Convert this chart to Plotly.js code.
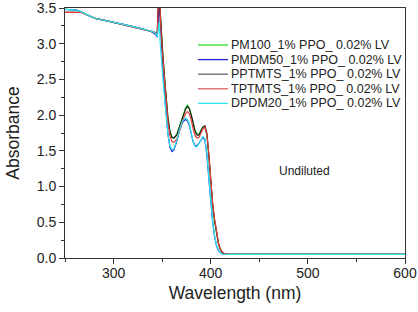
<!DOCTYPE html>
<html>
<head>
<meta charset="utf-8">
<script src="https://cdn.plot.ly/plotly-3.0.1.min.js"></script>
<style>html,body{margin:0;padding:0;background:#fff;}#chart{width:418px;height:312px;}</style>
</head>
<body>
<div id="chart"></div>
<script>
// Wavelength grid (nm)
const wavelength = [250,255,262,266,270,275,282,290,300,310,320,330,340,344,345,346,347,348,349,351,353,356,358,360,362,365,368,371,374,376,378,380,382,384,386,388,390,392,394,396,398,400,402,404,406,408,410,412,414,416,420,430,450,500,550,600];

const seriesNames = ["PM100_1% PPO_ 0.02% LV","PMDM50_1% PPO_ 0.02% LV","PPTMTS_1% PPO_ 0.02% LV","TPTMTS_1% PPO_ 0.02% LV","DPDM20_1% PPO_ 0.02% LV"];
const seriesColors = ["#2fdc2f","#2424d8","#1a1a1a","#e03a3a","#30e4ee"];
const legendLineColors = ["#2fdc2f","#2424d8","#666666","#e06060","#30e4ee"];

const pm100 =  [3.48,3.48,3.47,3.45,3.42,3.39,3.35,3.33,3.30,3.27,3.24,3.21,3.17,3.15,3.15,3.55,3.75,3.45,3.18,2.80,2.45,1.97,1.78,1.69,1.68,1.73,1.85,1.98,2.10,2.14,2.10,2.00,1.87,1.78,1.74,1.73,1.79,1.84,1.84,1.72,1.42,1.02,0.72,0.50,0.31,0.19,0.11,0.075,0.06,0.055,0.05,0.05,0.05,0.05,0.05,0.05];
const pmdm50 = [3.48,3.48,3.47,3.45,3.42,3.39,3.35,3.33,3.30,3.27,3.24,3.21,3.16,3.12,3.09,3.40,3.60,3.30,3.00,2.60,2.20,1.73,1.55,1.49,1.51,1.63,1.79,1.90,1.94,1.92,1.86,1.74,1.62,1.57,1.57,1.61,1.66,1.69,1.65,1.45,1.12,0.78,0.50,0.30,0.17,0.10,0.07,0.055,0.05,0.05,0.05,0.05,0.05,0.05,0.05,0.05];
const pptmts = [3.44,3.44,3.44,3.44,3.42,3.39,3.35,3.33,3.30,3.27,3.24,3.21,3.17,3.15,3.15,3.55,3.75,3.45,3.15,2.78,2.43,1.95,1.77,1.69,1.68,1.72,1.84,1.97,2.08,2.12,2.09,2.00,1.86,1.77,1.72,1.72,1.78,1.83,1.85,1.75,1.46,1.05,0.75,0.53,0.33,0.20,0.12,0.08,0.06,0.055,0.05,0.05,0.05,0.05,0.05,0.05];
const tptmts = [3.44,3.44,3.44,3.44,3.42,3.39,3.35,3.33,3.30,3.27,3.24,3.21,3.17,3.15,3.15,3.55,3.75,3.45,3.12,2.74,2.38,1.90,1.71,1.63,1.62,1.66,1.78,1.92,2.02,2.05,2.02,1.93,1.80,1.71,1.68,1.69,1.75,1.81,1.83,1.74,1.46,1.06,0.76,0.54,0.34,0.21,0.12,0.08,0.06,0.055,0.05,0.05,0.05,0.05,0.05,0.05];
const dpdm20 = [3.48,3.48,3.47,3.45,3.42,3.39,3.35,3.33,3.30,3.27,3.24,3.21,3.17,3.14,3.10,3.20,3.30,3.00,2.78,2.48,2.16,1.73,1.57,1.52,1.53,1.64,1.80,1.92,1.96,1.94,1.88,1.75,1.62,1.56,1.56,1.60,1.66,1.70,1.67,1.48,1.14,0.80,0.52,0.31,0.18,0.11,0.07,0.055,0.05,0.05,0.05,0.05,0.05,0.05,0.05,0.05];

const seriesValues = [pm100, pmdm50, pptmts, tptmts, dpdm20];

const xTickVals = [300,400,500,600];
const annotationText = "Undiluted";

const FONT = "Liberation Sans, Arial, sans-serif";

const traces = seriesValues.map((vals, i) => ({
  type: "scatter",
  mode: "lines",
  x: wavelength,
  y: vals,
  name: seriesNames[i],
  showlegend: false,
  line: {color: seriesColors[i], width: 1.2}
}));

// Manual legend (paper coordinates)
const plotL = 65, plotW = 340, plotB = 258, plotH = 250;
const px2x = p => (p - plotL) / plotW;
const px2y = p => (plotB - p) / plotH;
const legendRowY = [45, 59.6, 74.2, 88.8, 103.4];
const shapes = [];
const annotations = [];
seriesNames.forEach((name, i) => {
  shapes.push({type: "line", xref: "paper", yref: "paper",
    x0: px2x(198), x1: px2x(228), y0: px2y(legendRowY[i]), y1: px2y(legendRowY[i]),
    line: {color: legendLineColors[i], width: 1.3}});
  annotations.push({xref: "paper", yref: "paper", x: px2x(229), y: px2y(legendRowY[i]),
    xanchor: "left", yanchor: "middle", showarrow: false, text: name,
    font: {family: FONT, size: 12.5, color: "#222"}});
});
annotations.push({
  x: 497, y: 1.22, xref: "x", yref: "y", text: annotationText, showarrow: false,
  font: {family: FONT, size: 12, color: "#222"}
});

const axisFont = {family: FONT, size: 14, color: "#222"};

const layout = {
  width: 418, height: 312,
  margin: {l: 65, r: 13, t: 8, b: 54},
  paper_bgcolor: "#fff", plot_bgcolor: "#fff",
  showlegend: false,
  xaxis: {
    range: [250, 600], tickvals: xTickVals, ticktext: xTickVals.map(String),
    ticks: "outside", ticklen: 5, tickcolor: "#333", ticklabelstandoff: -3,
    showline: true, linecolor: "#333", linewidth: 1, mirror: true,
    showgrid: false, zeroline: false, ticklabeloverflow: "allow",
    tickfont: axisFont,
    minor: {dtick: 50, tick0: 250, ticks: "outside", ticklen: 3, tickcolor: "#333", showgrid: false},
    title: {text: "Wavelength (nm)", font: {family: FONT, size: 17.5, color: "#222"}, standoff: 6}
  },
  yaxis: {
    range: [0, 3.5], dtick: 0.5, tick0: 0, tickformat: ".1f",
    ticks: "outside", ticklen: 5, tickcolor: "#333",
    showline: true, linecolor: "#333", linewidth: 1, mirror: true,
    showgrid: false, zeroline: false, ticklabeloverflow: "allow",
    tickfont: axisFont,
    minor: {dtick: 0.25, ticks: "outside", ticklen: 3, tickcolor: "#333", showgrid: false},
    title: {text: "Absorbance", font: {family: FONT, size: 17.5, color: "#222"}, standoff: 12}
  },
  shapes: shapes,
  annotations: annotations
};

Plotly.newPlot("chart", traces, layout, {displayModeBar: false, staticPlot: true});
</script>
</body>
</html>
